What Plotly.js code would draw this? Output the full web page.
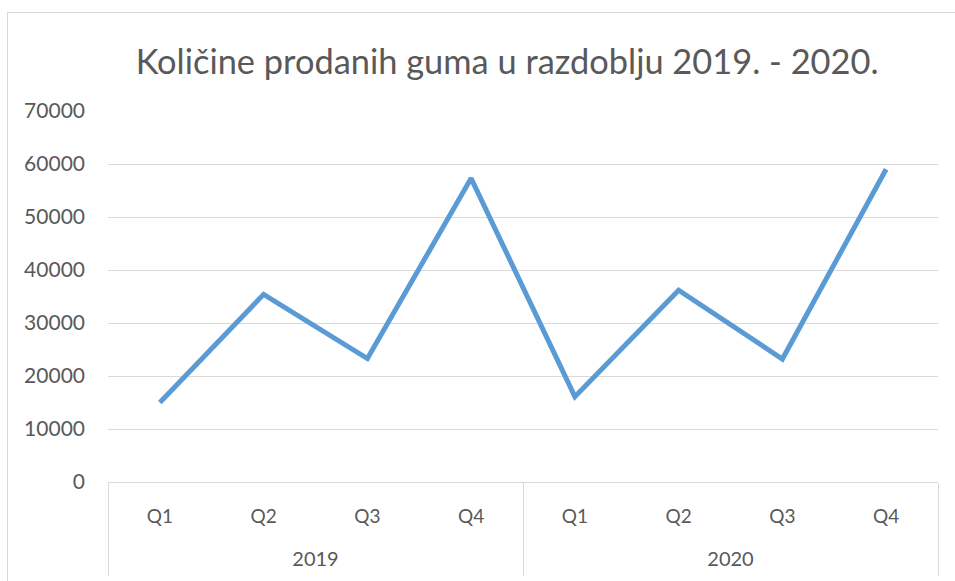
<!DOCTYPE html>
<html>
<head>
<meta charset="utf-8">
<script src="https://cdn.plot.ly/plotly-3.0.1.min.js"></script>
<style>
  html, body { margin: 0; padding: 0; background: #fff; }
  #wrap { position: relative; width: 955px; height: 581px; overflow: hidden; }
  #chart { width: 955px; height: 581px; }
  #frame { position: absolute; left: 7px; top: 12px; width: 960px; height: 600px; border: 1px solid #d9d9d9; pointer-events: none; }
</style>
</head>
<body>
<div id="wrap"><div id="chart"></div><div id="frame"></div></div>
<script>
const years = ["2019", "2019", "2019", "2019", "2020", "2020", "2020", "2020"];
const quarters = ["Q1", "Q2", "Q3", "Q4", "Q1", "Q2", "Q3", "Q4"];
const sales = [15000, 35400, 23300, 57300, 16100, 36200, 23200, 59000];
const yTicks = [0, 10000, 20000, 30000, 40000, 50000, 60000, 70000];
const chartTitle = "Količine prodanih guma u razdoblju 2019. - 2020.";

const font = "Lato, 'Open Sans', sans-serif";
const grey = "#595959", lineGrey = "#d9d9d9";

// category positions and year groups derived from the arrays
const idx = quarters.map((_, i) => i);
const groupNames = [...new Set(years)];
const groupCenters = groupNames.map(g => {
  const ii = idx.filter(i => years[i] === g);
  return (ii[0] + ii[ii.length - 1]) / 2;
});
const groupBounds = [-0.5].concat(groupNames.map(g => {
  const ii = idx.filter(i => years[i] === g);
  return ii[ii.length - 1] + 0.5;
}));
const xr = [-0.5, quarters.length - 0.5];

// invisible helper traces so the group-label and divider axes are drawn
const helper = (axis, xs) => ({
  type: "scatter", mode: "markers", xaxis: axis, yaxis: "y",
  x: xs, y: xs.map(() => null),
  marker: { opacity: 0 }, hoverinfo: "skip", showlegend: false
});

Plotly.newPlot("chart", [{
  type: "scatter",
  mode: "lines",
  x: idx,
  y: sales,
  line: { color: "#5b9bd5", width: 5, shape: "linear" },
  hoverinfo: "y"
}, helper("x2", groupCenters), helper("x3", groupBounds)], {
  width: 955, height: 581,
  margin: { l: 108, r: 17, t: 111, b: 99, pad: 0 },
  paper_bgcolor: "#ffffff", plot_bgcolor: "#ffffff",
  showlegend: false,
  title: {
    text: chartTitle,
    font: { family: font, size: 34.4, color: grey },
    x: 0.531, xref: "container", xanchor: "center",
    y: 0.893, yref: "container", yanchor: "middle"
  },
  xaxis: {
    range: xr,
    tickvals: idx, ticktext: quarters,
    showgrid: false, zeroline: false,
    showline: true, linecolor: lineGrey, linewidth: 1,
    ticks: "",
    ticklabelstandoff: 17,
    tickfont: { family: font, size: 19, color: grey }
  },
  xaxis2: {
    overlaying: "x", anchor: "y", side: "bottom",
    range: xr,
    tickvals: groupCenters, ticktext: groupNames,
    showgrid: false, zeroline: false, showline: false,
    ticks: "",
    ticklabelstandoff: 63,
    tickfont: { family: font, size: 20, color: grey }
  },
  xaxis3: {
    overlaying: "x", anchor: "y", side: "bottom",
    range: xr,
    tickvals: groupBounds,
    showgrid: false, zeroline: false, showline: false,
    showticklabels: false,
    ticks: "outside", ticklen: 93, tickwidth: 1, tickcolor: lineGrey
  },
  yaxis: {
    range: [0, 70000],
    tickvals: yTicks,
    ticktext: yTicks.map(String),
    showgrid: true, gridcolor: lineGrey, gridwidth: 1,
    showline: false, zeroline: false,
    ticks: "",
    ticklabelstandoff: 22,
    tickfont: { family: font, size: 21, color: grey }
  }
}, { displayModeBar: false, staticPlot: true });
</script>
</body>
</html>
